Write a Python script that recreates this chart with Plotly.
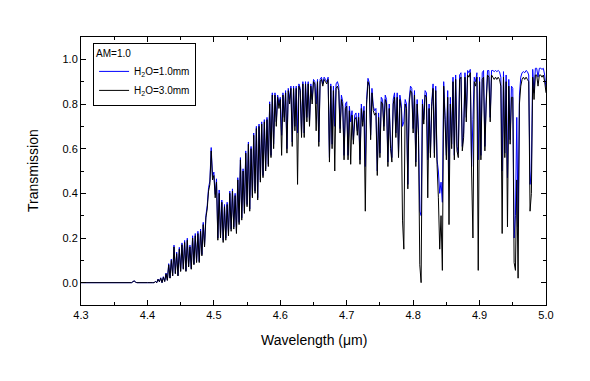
import numpy as np
import plotly.graph_objects as go

# leading flat part (wavelength in um, transmission)
wl_pre = [4.300, 4.376, 4.378, 4.380, 4.382, 4.384, 4.400, 4.408]
t_pre_3mm = [0.0, 0.0, 0.004, 0.008, 0.003, 0.0, 0.0, 0.0]
t_pre_1mm = [0.0, 0.0, 0.004, 0.008, 0.003, 0.0, 0.0, 0.0]

# sampling grid 4.410 ... 5.000 um, step 0.002 um
wl_grid = np.round(4.410 + 0.002 * np.arange(296), 3)

# H2O = 3.0 mm (black)
t_3mm = [
    0.0, 0.005, 0.0, 0.015, 0.004, 0.02, 0.0, 0.025, 0.005, 0.04,      # 4.410
    0.01, 0.08, 0.02, 0.10, 0.03, 0.16, 0.04, 0.13, 0.03, 0.15,        # 4.430
    0.05, 0.17, 0.06, 0.18, 0.05, 0.19, 0.07, 0.16, 0.06, 0.20,        # 4.450
    0.08, 0.21, 0.09, 0.22, 0.09, 0.23, 0.12, 0.26, 0.16, 0.29,        # 4.470
    0.33, 0.41, 0.44, 0.59, 0.46, 0.48, 0.38, 0.45, 0.19, 0.40,        # 4.490
    0.20, 0.36, 0.18, 0.34, 0.19, 0.35, 0.21, 0.40, 0.23, 0.41,        # 4.510
    0.24, 0.39, 0.22, 0.46, 0.26, 0.55, 0.28, 0.50, 0.31, 0.58,        # 4.530
    0.34, 0.62, 0.32, 0.60, 0.38, 0.66, 0.40, 0.69, 0.37, 0.70,        # 4.550
    0.45, 0.71, 0.47, 0.72, 0.50, 0.73, 0.52, 0.80, 0.56, 0.84,        # 4.570
    0.60, 0.84, 0.70, 0.83, 0.78, 0.82, 0.57, 0.84, 0.72, 0.85,        # 4.590
    0.58, 0.86, 0.80, 0.87, 0.61, 0.87, 0.68, 0.87, 0.44, 0.88,        # 4.610
    0.86, 0.65, 0.89, 0.65, 0.89, 0.72, 0.89, 0.70, 0.88, 0.80,        # 4.630
    0.90, 0.89, 0.68, 0.90, 0.61, 0.90, 0.91, 0.88, 0.91, 0.90,        # 4.650
    0.89, 0.91, 0.54, 0.88, 0.60, 0.86, 0.50, 0.87, 0.88, 0.86,        # 4.670
    0.67, 0.82, 0.79, 0.55, 0.78, 0.79, 0.55, 0.77, 0.53, 0.75,        # 4.690
    0.62, 0.73, 0.74, 0.66, 0.74, 0.53, 0.78, 0.70, 0.77, 0.32,        # 4.710
    0.80, 0.90, 0.88, 0.64, 0.85, 0.77, 0.75, 0.76, 0.48, 0.74,        # 4.730
    0.56, 0.81, 0.80, 0.68, 0.82, 0.80, 0.52, 0.78, 0.60, 0.54,        # 4.750
    0.80, 0.83, 0.65, 0.83, 0.56, 0.82, 0.78, 0.28, 0.15, 0.80,        # 4.770
    0.78, 0.42, 0.80, 0.86, 0.85, 0.67, 0.84, 0.52, 0.80, 0.66,        # 4.790
    0.08, 0.00, 0.80, 0.71, 0.84, 0.83, 0.38, 0.78, 0.56, 0.79,        # 4.810
    0.87, 0.56, 0.86, 0.53, 0.38, 0.15, 0.30, 0.055, 0.88, 0.73,       # 4.830
    0.55, 0.83, 0.26, 0.80, 0.60, 0.90, 0.55, 0.91, 0.59, 0.56,        # 4.850
    0.91, 0.92, 0.59, 0.65, 0.92, 0.72, 0.93, 0.92, 0.94, 0.50,        # 4.870
    0.20, 0.90, 0.88, 0.92, 0.055, 0.90, 0.55, 0.91, 0.92, 0.59,       # 4.890
    0.80, 0.93, 0.92, 0.72, 0.93, 0.92, 0.91, 0.92, 0.91, 0.92,        # 4.910
    0.91, 0.88, 0.22, 0.92, 0.56, 0.90, 0.25, 0.88, 0.62, 0.83,        # 4.930
    0.83, 0.09, 0.055, 0.46, 0.02, 0.80, 0.88, 0.91, 0.92, 0.91,       # 4.950
    0.92, 0.91, 0.90, 0.32, 0.40, 0.92, 0.82, 0.93, 0.93, 0.88,        # 4.970
    0.93, 0.93, 0.92, 0.93, 0.90, 0.85,                                # 4.990
]

# H2O = 1.0 mm (blue)
t_1mm = [
    0.0, 0.006, 0.0, 0.016, 0.005, 0.022, 0.0, 0.027, 0.006, 0.043,
    0.011, 0.085, 0.021, 0.106, 0.032, 0.168, 0.042, 0.137, 0.032, 0.158,
    0.053, 0.178, 0.063, 0.189, 0.053, 0.199, 0.074, 0.168, 0.063, 0.21,
    0.084, 0.22, 0.095, 0.23, 0.095, 0.24, 0.126, 0.27, 0.168, 0.30,
    0.345, 0.425, 0.455, 0.605, 0.475, 0.495, 0.395, 0.465, 0.20, 0.415,
    0.21, 0.37, 0.19, 0.35, 0.20, 0.36, 0.22, 0.41, 0.24, 0.42,
    0.25, 0.40, 0.23, 0.47, 0.27, 0.56, 0.29, 0.51, 0.32, 0.59,
    0.35, 0.63, 0.33, 0.61, 0.39, 0.67, 0.41, 0.70, 0.38, 0.71,
    0.46, 0.72, 0.48, 0.73, 0.51, 0.74, 0.53, 0.81, 0.57, 0.85,
    0.62, 0.85, 0.72, 0.84, 0.80, 0.83, 0.66, 0.85, 0.74, 0.86,
    0.60, 0.87, 0.82, 0.88, 0.63, 0.88, 0.70, 0.88, 0.67, 0.89,
    0.87, 0.67, 0.90, 0.67, 0.90, 0.74, 0.90, 0.72, 0.89, 0.82,
    0.91, 0.90, 0.80, 0.91, 0.63, 0.91, 0.92, 0.89, 0.92, 0.91,
    0.90, 0.92, 0.56, 0.89, 0.62, 0.88, 0.70, 0.89, 0.90, 0.88,
    0.69, 0.84, 0.81, 0.57, 0.80, 0.81, 0.57, 0.79, 0.72, 0.77,
    0.64, 0.75, 0.76, 0.68, 0.76, 0.55, 0.80, 0.72, 0.79, 0.52,
    0.82, 0.915, 0.895, 0.66, 0.87, 0.79, 0.77, 0.78, 0.50, 0.76,
    0.58, 0.83, 0.82, 0.70, 0.84, 0.82, 0.54, 0.80, 0.62, 0.56,
    0.82, 0.85, 0.67, 0.85, 0.58, 0.84, 0.80, 0.70, 0.72, 0.82,
    0.80, 0.44, 0.82, 0.88, 0.87, 0.69, 0.86, 0.54, 0.82, 0.68,
    0.32, 0.30, 0.82, 0.73, 0.86, 0.85, 0.55, 0.80, 0.58, 0.81,
    0.89, 0.58, 0.88, 0.55, 0.50, 0.40, 0.45, 0.36, 0.90, 0.75,
    0.57, 0.86, 0.46, 0.83, 0.62, 0.92, 0.57, 0.93, 0.61, 0.58,
    0.93, 0.94, 0.61, 0.67, 0.94, 0.74, 0.95, 0.94, 0.955, 0.52,
    0.73, 0.92, 0.90, 0.94, 0.55, 0.92, 0.57, 0.94, 0.95, 0.61,
    0.82, 0.95, 0.95, 0.74, 0.95, 0.95, 0.945, 0.95, 0.945, 0.95,
    0.945, 0.92, 0.50, 0.945, 0.58, 0.93, 0.47, 0.91, 0.64, 0.88,
    0.87, 0.20, 0.30, 0.74, 0.25, 0.84, 0.92, 0.94, 0.945, 0.94,
    0.95, 0.945, 0.93, 0.44, 0.50, 0.955, 0.85, 0.96, 0.96, 0.92,
    0.96, 0.96, 0.955, 0.96, 0.93, 0.87,
]

x_ticks = [4.3, 4.4, 4.5, 4.6, 4.7, 4.8, 4.9, 5.0]
y_ticks = [0.0, 0.2, 0.4, 0.6, 0.8, 1.0]

wl = list(wl_pre) + list(wl_grid)
y1 = list(t_pre_1mm) + t_1mm
y3 = list(t_pre_3mm) + t_3mm

FONT = "Liberation Sans, Arial, sans-serif"

fig = go.Figure()
fig.add_trace(go.Scatter(x=wl, y=y1, mode="lines", name="H<sub>2</sub>O=1.0mm",
                         line=dict(color="#0000FF", width=1, simplify=False)))
fig.add_trace(go.Scatter(x=wl, y=y3, mode="lines", name="H<sub>2</sub>O=3.0mm",
                         line=dict(color="#000000", width=1, simplify=False)))

axis_common = dict(showline=True, linecolor="black", linewidth=1, mirror="ticks",
                   ticks="inside", tickcolor="black", ticklen=5, tickwidth=1,
                   showgrid=False, zeroline=False, automargin=False,
                   tickfont=dict(family=FONT, size=11, color="black"))

fig.update_xaxes(range=[4.3, 5.0], tickvals=x_ticks, ticktext=[f"{v:.1f}" for v in x_ticks],
                 minor=dict(dtick=0.05, tick0=4.3, ticks="inside", ticklen=3, tickcolor="black"),
                 **axis_common)
fig.update_yaxes(range=[-0.1, 1.1], tickvals=y_ticks, ticktext=[f"{v:.1f}" for v in y_ticks],
                 minor=dict(dtick=0.1, tick0=0, ticks="inside", ticklen=3, tickcolor="black"),
                 **axis_common)

# axis titles as annotations for exact placement
fig.add_annotation(text="Wavelength (\u03bcm)", xref="paper", yref="paper", x=0.5, y=0,
                   yshift=-35, showarrow=False, xanchor="center", yanchor="middle",
                   font=dict(family=FONT, size=14, color="black"))
fig.add_annotation(text="Transmission", xref="paper", yref="paper", x=0, y=0.5,
                   xshift=-48, showarrow=False, xanchor="center", yanchor="middle",
                   textangle=-90, font=dict(family=FONT, size=14, color="black"))

# page body has an 8px margin in the browser: shift the figure accordingly
fig.update_layout(
    width=582, height=373,
    margin=dict(l=73, r=44, t=29, b=76, autoexpand=False),
    paper_bgcolor="white", plot_bgcolor="white",
    showlegend=True,
    legend=dict(x=0.026, y=0.978, xanchor="left", yanchor="top",
                bgcolor="white", bordercolor="black", borderwidth=1,
                font=dict(family=FONT, size=10, color="black"),
                title=dict(text="AM=1.0", font=dict(family=FONT, size=10, color="black")),
                itemwidth=30, tracegroupgap=0),
)

fig.write_html("out.html")
